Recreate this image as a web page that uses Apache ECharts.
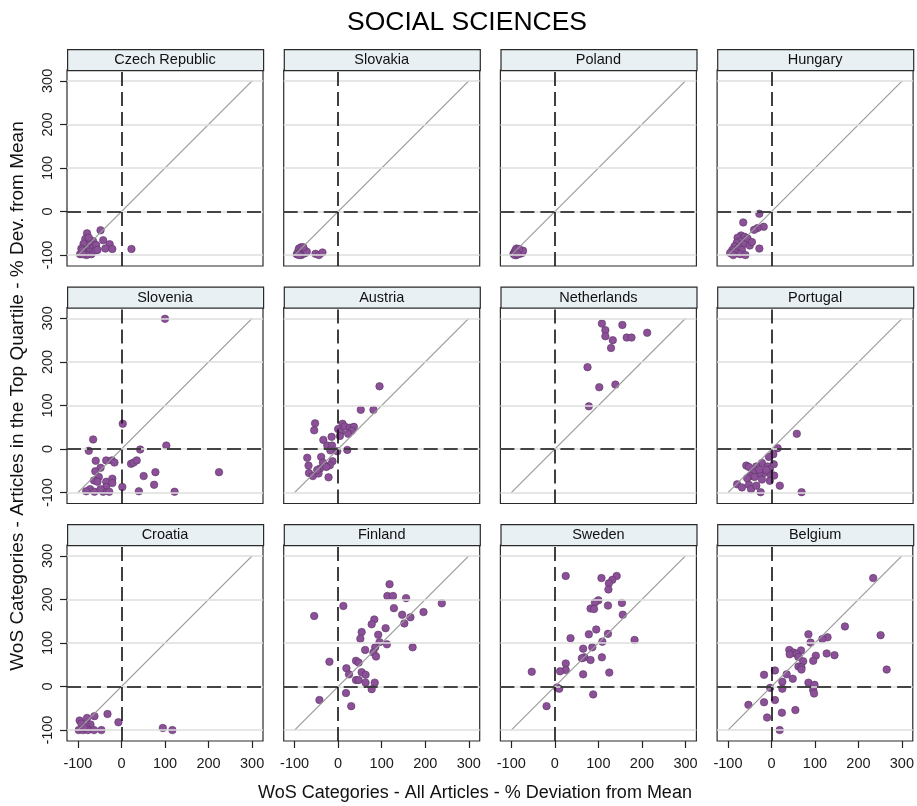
<!DOCTYPE html>
<html>
<head>
<meta charset="utf-8">
<script src="https://cdn.jsdelivr.net/npm/echarts@6/dist/echarts.min.js"></script>
<style>
html,body{margin:0;padding:0;background:#fff;}
#chart{width:917px;height:806px;}
</style>
</head>
<body>
<div id="chart"></div>
<script>
// ---------- DATA ----------
const titleText = 'SOCIAL SCIENCES';
const xAxisTitle = 'WoS Categories - All Articles - % Deviation from Mean';
const yAxisTitle = 'WoS Categories - Articles in the Top Quartile - % Dev. from Mean';
const countries = ['Czech Republic','Slovakia','Poland','Hungary','Slovenia','Austria','Netherlands','Portugal','Croatia','Finland','Sweden','Belgium'];
const tickValues = [-100, 0, 100, 200, 300];
const axisRange = [-125, 325];
const diagonal = [[-100, -100], [300, 300]];

const czechRepublic = [[-48,-43],[-79,-50],[-42,-66],[-27,-75],[-37,-85],[-21,-86],[23,-86],[-83,-63],[-65,-68],[-72,-75],[-87,-74],[-92,-85],[-77,-86],[-65,-83],[-58,-77],[-84,-94],[-95,-98],[-72,-92],[-90,-89],[-69,-98],[-80,-100],[-60,-90],[-75,-60],[-55,-88],[-88,-98]];
const slovakia = [[-95,-98],[-92,-92],[-90,-85],[-88,-95],[-85,-100],[-83,-90],[-80,-97],[-78,-88],[-85,-82],[-75,-95],[-90,-100],[-72,-92],[-80,-82],[-52,-97],[-44,-100],[-36,-94]];
const poland = [[-95,-97],[-92,-92],[-90,-88],[-88,-100],[-85,-95],[-83,-90],[-80,-97],[-78,-92],[-75,-95],[-73,-90],[-88,-85],[-82,-86],[-92,-100],[-86,-98]];
const hungary = [[-28,-5],[-65,-25],[-18,-35],[-32,-38],[-40,-42],[-70,-55],[-62,-58],[-78,-60],[-55,-62],[-72,-68],[-80,-72],[-65,-75],[-85,-80],[-75,-82],[-90,-88],[-68,-88],[-95,-95],[-82,-95],[-88,-100],[-72,-98],[-60,-100],[-28,-85],[-50,-78],[-45,-70]];
const slovenia = [[100,299],[3,58],[-65,22],[-75,-4],[43,-1],[103,8],[-59,-27],[-35,-26],[-22,-26],[-16,-31],[-48,-43],[-60,-51],[22,-34],[28,-31],[35,-26],[78,-53],[224,-53],[51,-62],[-52,-64],[-63,-72],[-55,-75],[-35,-75],[-21,-68],[-21,-78],[-35,-87],[75,-82],[2,-87],[-72,-92],[-81,-97],[-62,-98],[-42,-98],[-28,-98],[40,-97],[122,-98],[-48,-92]];
const austria = [[95,144],[52,90],[81,90],[-53,59],[-55,43],[10,58],[0,46],[6,40],[15,52],[27,49],[36,51],[31,42],[23,35],[4,30],[-15,28],[-34,21],[-25,8],[-14,8],[-18,-3],[-2,-5],[21,-2],[-71,-20],[-39,-18],[-13,-28],[-35,-31],[-68,-38],[-19,-37],[-42,-45],[-67,-55],[-58,-62],[-45,-56],[-22,-65],[-48,-48],[-27,-41]];
const netherlands = [[108,288],[155,285],[116,273],[116,259],[133,250],[165,256],[176,256],[212,267],[129,232],[75,188],[102,142],[139,148],[78,98]];
const portugal = [[58,35],[14,2],[4,-12],[-6,-18],[-22,-32],[5,-35],[-58,-38],[-52,-41],[-35,-40],[-9,-40],[-4,-47],[-17,-55],[-28,-56],[-42,-55],[-48,-62],[-39,-64],[-22,-70],[-1,-61],[6,-61],[-4,-73],[-56,-67],[-79,-81],[-68,-88],[-52,-82],[-47,-92],[-35,-84],[19,-84],[-25,-99],[69,-99],[-28,-47],[-12,-48]];
const croatia = [[-32,-63],[-7,-82],[-62,-68],[-79,-72],[-96,-78],[-92,-85],[-71,-87],[-81,-91],[-98,-100],[-88,-100],[-77,-100],[-63,-100],[-46,-100],[95,-95],[117,-100],[-85,-95]];
const finland = [[118,235],[113,208],[126,208],[156,203],[238,191],[12,185],[128,180],[-55,162],[196,171],[147,165],[166,159],[83,154],[77,143],[152,145],[109,134],[54,125],[92,119],[51,110],[95,102],[112,97],[171,90],[85,90],[62,84],[81,78],[87,69],[-20,57],[41,59],[47,55],[19,42],[25,28],[54,33],[63,27],[41,15],[47,15],[63,9],[84,9],[77,-6],[18,-15],[-43,-31],[30,-45]];
const sweden = [[25,254],[142,254],[107,249],[132,245],[124,237],[123,223],[100,198],[92,193],[154,192],[122,186],[82,179],[90,178],[156,165],[95,131],[78,120],[122,121],[36,111],[183,107],[109,103],[86,90],[65,87],[68,67],[62,65],[108,67],[82,61],[25,53],[25,38],[12,35],[-53,34],[65,28],[125,32],[5,-2],[10,-5],[88,-18],[-19,-45]];
const belgium = [[234,249],[169,138],[251,118],[85,120],[129,113],[117,109],[90,101],[265,39],[41,84],[68,83],[51,78],[42,74],[58,75],[62,68],[102,71],[127,76],[145,72],[73,58],[96,59],[62,46],[69,44],[69,39],[8,37],[-17,27],[35,28],[49,18],[25,11],[85,9],[99,4],[-3,-3],[25,-5],[96,-8],[98,-16],[-53,-42],[-17,-36],[8,-31],[24,-60],[55,-54],[-10,-71],[19,-100]];

const panelData = [czechRepublic, slovakia, poland, hungary, slovenia, austria, netherlands, portugal, croatia, finland, sweden, belgium];

// ---------- LAYOUT ----------
const FONT = 'Liberation Sans, Arial, Helvetica, sans-serif';
const colLeft = [67, 283.7, 500.4, 717.1];
const rowTop = [70, 307.5, 545];
const PW = 196, PH = 196, HH = 21;

const grids = [], xAxes = [], yAxes = [], series = [], graphics = [];

for (let i = 0; i < 12; i++) {
  const r = Math.floor(i / 4), c = i % 4;
  const left = colLeft[c], top = rowTop[r];
  grids.push({left: left, top: top, width: PW, height: PH, show: true,
    borderColor: '#2a2a2a', borderWidth: 1.2, backgroundColor: 'rgba(0,0,0,0)', containLabel: false});
  const isBottom = r === 2, isLeft = c === 0;
  xAxes.push({type: 'value', gridIndex: i, position: 'bottom', min: axisRange[0], max: axisRange[1],
    axisLine: {show: false, onZero: false}, splitLine: {show: false},
    axisTick: {show: isBottom, length: 7, customValues: tickValues, lineStyle: {color: '#222', width: 1.2}},
    axisLabel: {show: isBottom, customValues: tickValues, margin: 15, fontSize: 14.5, color: '#1a1a1a', fontFamily: FONT}
  });
  yAxes.push({type: 'value', gridIndex: i, position: 'left', min: axisRange[0], max: axisRange[1],
    axisLine: {show: false, onZero: false}, splitLine: {show: false},
    axisTick: {show: isLeft, length: 7, customValues: tickValues, lineStyle: {color: '#222', width: 1.2}},
    axisLabel: {show: isLeft, customValues: tickValues, rotate: 90, margin: 12, fontSize: 14.5, color: '#1a1a1a', fontFamily: FONT}
  });
  const gridLineStyle = {color: '#dedede', width: 1.6, type: 'solid'};
  const dashStyle = {color: '#111', width: 1.6, type: [14, 6]};
  series.push({type: 'line', xAxisIndex: i, yAxisIndex: i, data: [], z: 1, silent: true,
    markLine: {symbol: ['none','none'], silent: true, animation: false, label: {show: false},
      data: tickValues.map(v => ({yAxis: v, lineStyle: gridLineStyle}))
        .concat([{yAxis: 0, lineStyle: dashStyle}, {xAxis: 0, lineStyle: dashStyle}])
    }
  });
  series.push({type: 'scatter', xAxisIndex: i, yAxisIndex: i, data: panelData[i], z: 2,
    symbolSize: 7.5, clip: false,
    itemStyle: {color: '#8c5099', borderColor: '#5a3563', borderWidth: 0.6, opacity: 1}
  });
  series.push({type: 'line', xAxisIndex: i, yAxisIndex: i, data: diagonal, z: 3, silent: true,
    symbol: 'none', lineStyle: {color: '#9a9a9a', width: 1.2}
  });
  graphics.push({type: 'rect', left: left, top: top - HH, shape: {width: PW, height: HH},
    style: {fill: '#e8f0f3', stroke: '#2a2a2a', lineWidth: 1.2}, z: 10});
  graphics.push({type: 'text', x: left + PW / 2, y: top - HH / 2 + 0.5, z: 11,
    style: {text: countries[i], fill: '#111', font: '14.5px ' + FONT, align: 'center', verticalAlign: 'middle'}});
}

graphics.push({type: 'text', x: 18, y: 396, rotation: Math.PI / 2, z: 11,
  style: {text: yAxisTitle, fill: '#111', font: '19px ' + FONT, align: 'center', verticalAlign: 'middle'}});
graphics.push({type: 'text', x: 475, y: 793, z: 11,
  style: {text: xAxisTitle, fill: '#111', font: '18px ' + FONT, align: 'center', verticalAlign: 'middle'}});

const chart = echarts.init(document.getElementById('chart'), null, {renderer: 'canvas'});
chart.setOption({
  animation: false,
  backgroundColor: '#ffffff',
  title: {text: titleText, left: 462, top: 4, textAlign: 'center',
    textStyle: {fontSize: 26.5, fontWeight: 'normal', color: '#000', fontFamily: FONT}},
  grid: grids, xAxis: xAxes, yAxis: yAxes, series: series, graphic: graphics
});
</script>
</body>
</html>
